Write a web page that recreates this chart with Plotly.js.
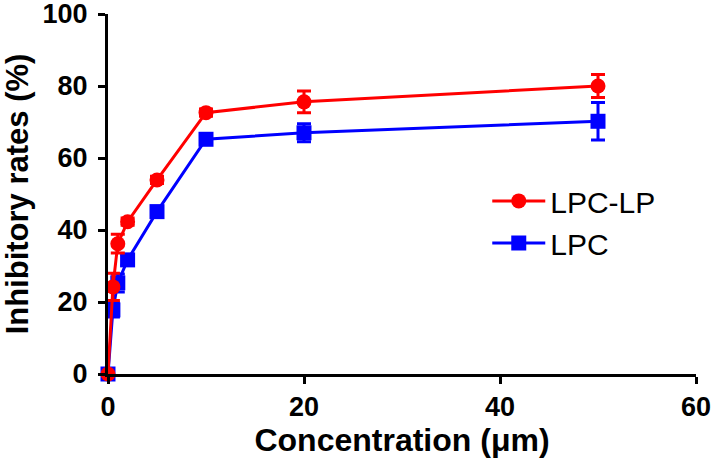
<!DOCTYPE html>
<html>
<head>
<meta charset="utf-8">
<script src="https://cdn.plot.ly/plotly-3.0.1.min.js"></script>
<style>html,body{margin:0;padding:0;background:#fff;}#chart{width:714px;height:463px;}</style>
</head>
<body>
<div id="chart"></div>
<script>
var concentration = [0, 0.5, 1, 2, 5, 10, 20, 50];
var lpcLpValues = [0, 24.2, 36.2, 42.3, 53.9, 72.6, 75.6, 80.0];
var lpcLpErrors = [0, 3.8, 2.6, 1.0, 1.0, 1.0, 3.0, 3.2];
var lpcValues = [0, 17.8, 25.3, 31.7, 45.1, 65.2, 67.0, 70.2];
var lpcErrors = [0, 2.0, 2.5, 1.5, 1.5, 1.2, 2.5, 5.2];
var xTicks = [0, 20, 40, 60];
var yTicks = [0, 20, 40, 60, 80, 100];

var fontFam = 'Liberation Sans, Arial, Helvetica, sans-serif';

var traces = [
  {
    x: concentration, y: lpcValues, name: 'LPC', type: 'scatter', mode: 'lines+markers',
    line: {color: '#0000FF', width: 3},
    marker: {symbol: 'square', size: 15, color: '#0000FF'},
    error_y: {type: 'data', array: lpcErrors, visible: true, color: '#0000FF', thickness: 3, width: 7},
    cliponaxis: false
  },
  {
    x: concentration, y: lpcLpValues, name: 'LPC-LP', type: 'scatter', mode: 'lines+markers',
    line: {color: '#FF0000', width: 3},
    marker: {symbol: 'circle', size: 15, color: '#FF0000'},
    error_y: {type: 'data', array: lpcLpErrors, visible: true, color: '#FF0000', thickness: 3, width: 7},
    cliponaxis: false
  }
];

var layout = {
  width: 714, height: 463,
  margin: {l: 108, r: 18, t: 14, b: 89},
  paper_bgcolor: '#fff', plot_bgcolor: '#fff',
  font: {family: fontFam, color: '#000'},
  showlegend: true,
  legend: {
    x: 0.645, y: 0.553, xanchor: 'left', yanchor: 'top',
    traceorder: 'reversed', itemwidth: 53,
    font: {family: fontFam, size: 30, color: '#000'},
    bgcolor: 'rgba(0,0,0,0)', tracegroupgap: 0
  },
  xaxis: {
    range: [0, 60], tickvals: xTicks, ticktext: xTicks.map(String),
    showgrid: false, zeroline: false,
    showline: true, linecolor: '#000', linewidth: 3,
    ticks: 'outside', ticklen: 7, tickwidth: 3, tickcolor: '#000',
    ticklabeloverflow: 'allow',
    tickfont: {family: fontFam, size: 27, weight: 'bold', color: '#000'},
    title: {text: 'Concentration (μm)', font: {family: fontFam, size: 32, weight: 'bold', color: '#000'}, standoff: 2},
    automargin: false
  },
  yaxis: {
    range: [0, 100], tickvals: yTicks, ticktext: yTicks.map(String),
    showgrid: false, zeroline: false,
    showline: true, linecolor: '#000', linewidth: 3,
    ticks: 'outside', ticklen: 7, tickwidth: 3, tickcolor: '#000',
    ticklabelstandoff: 5, ticklabeloverflow: 'allow',
    tickfont: {family: fontFam, size: 27, weight: 'bold', color: '#000'},
    title: {text: 'Inhibitory rates (%)', font: {family: fontFam, size: 31, weight: 'bold', color: '#000'}, standoff: 10},
    automargin: false
  }
};

Plotly.newPlot('chart', traces, layout, {displayModeBar: false, staticPlot: true});
</script>
</body>
</html>
